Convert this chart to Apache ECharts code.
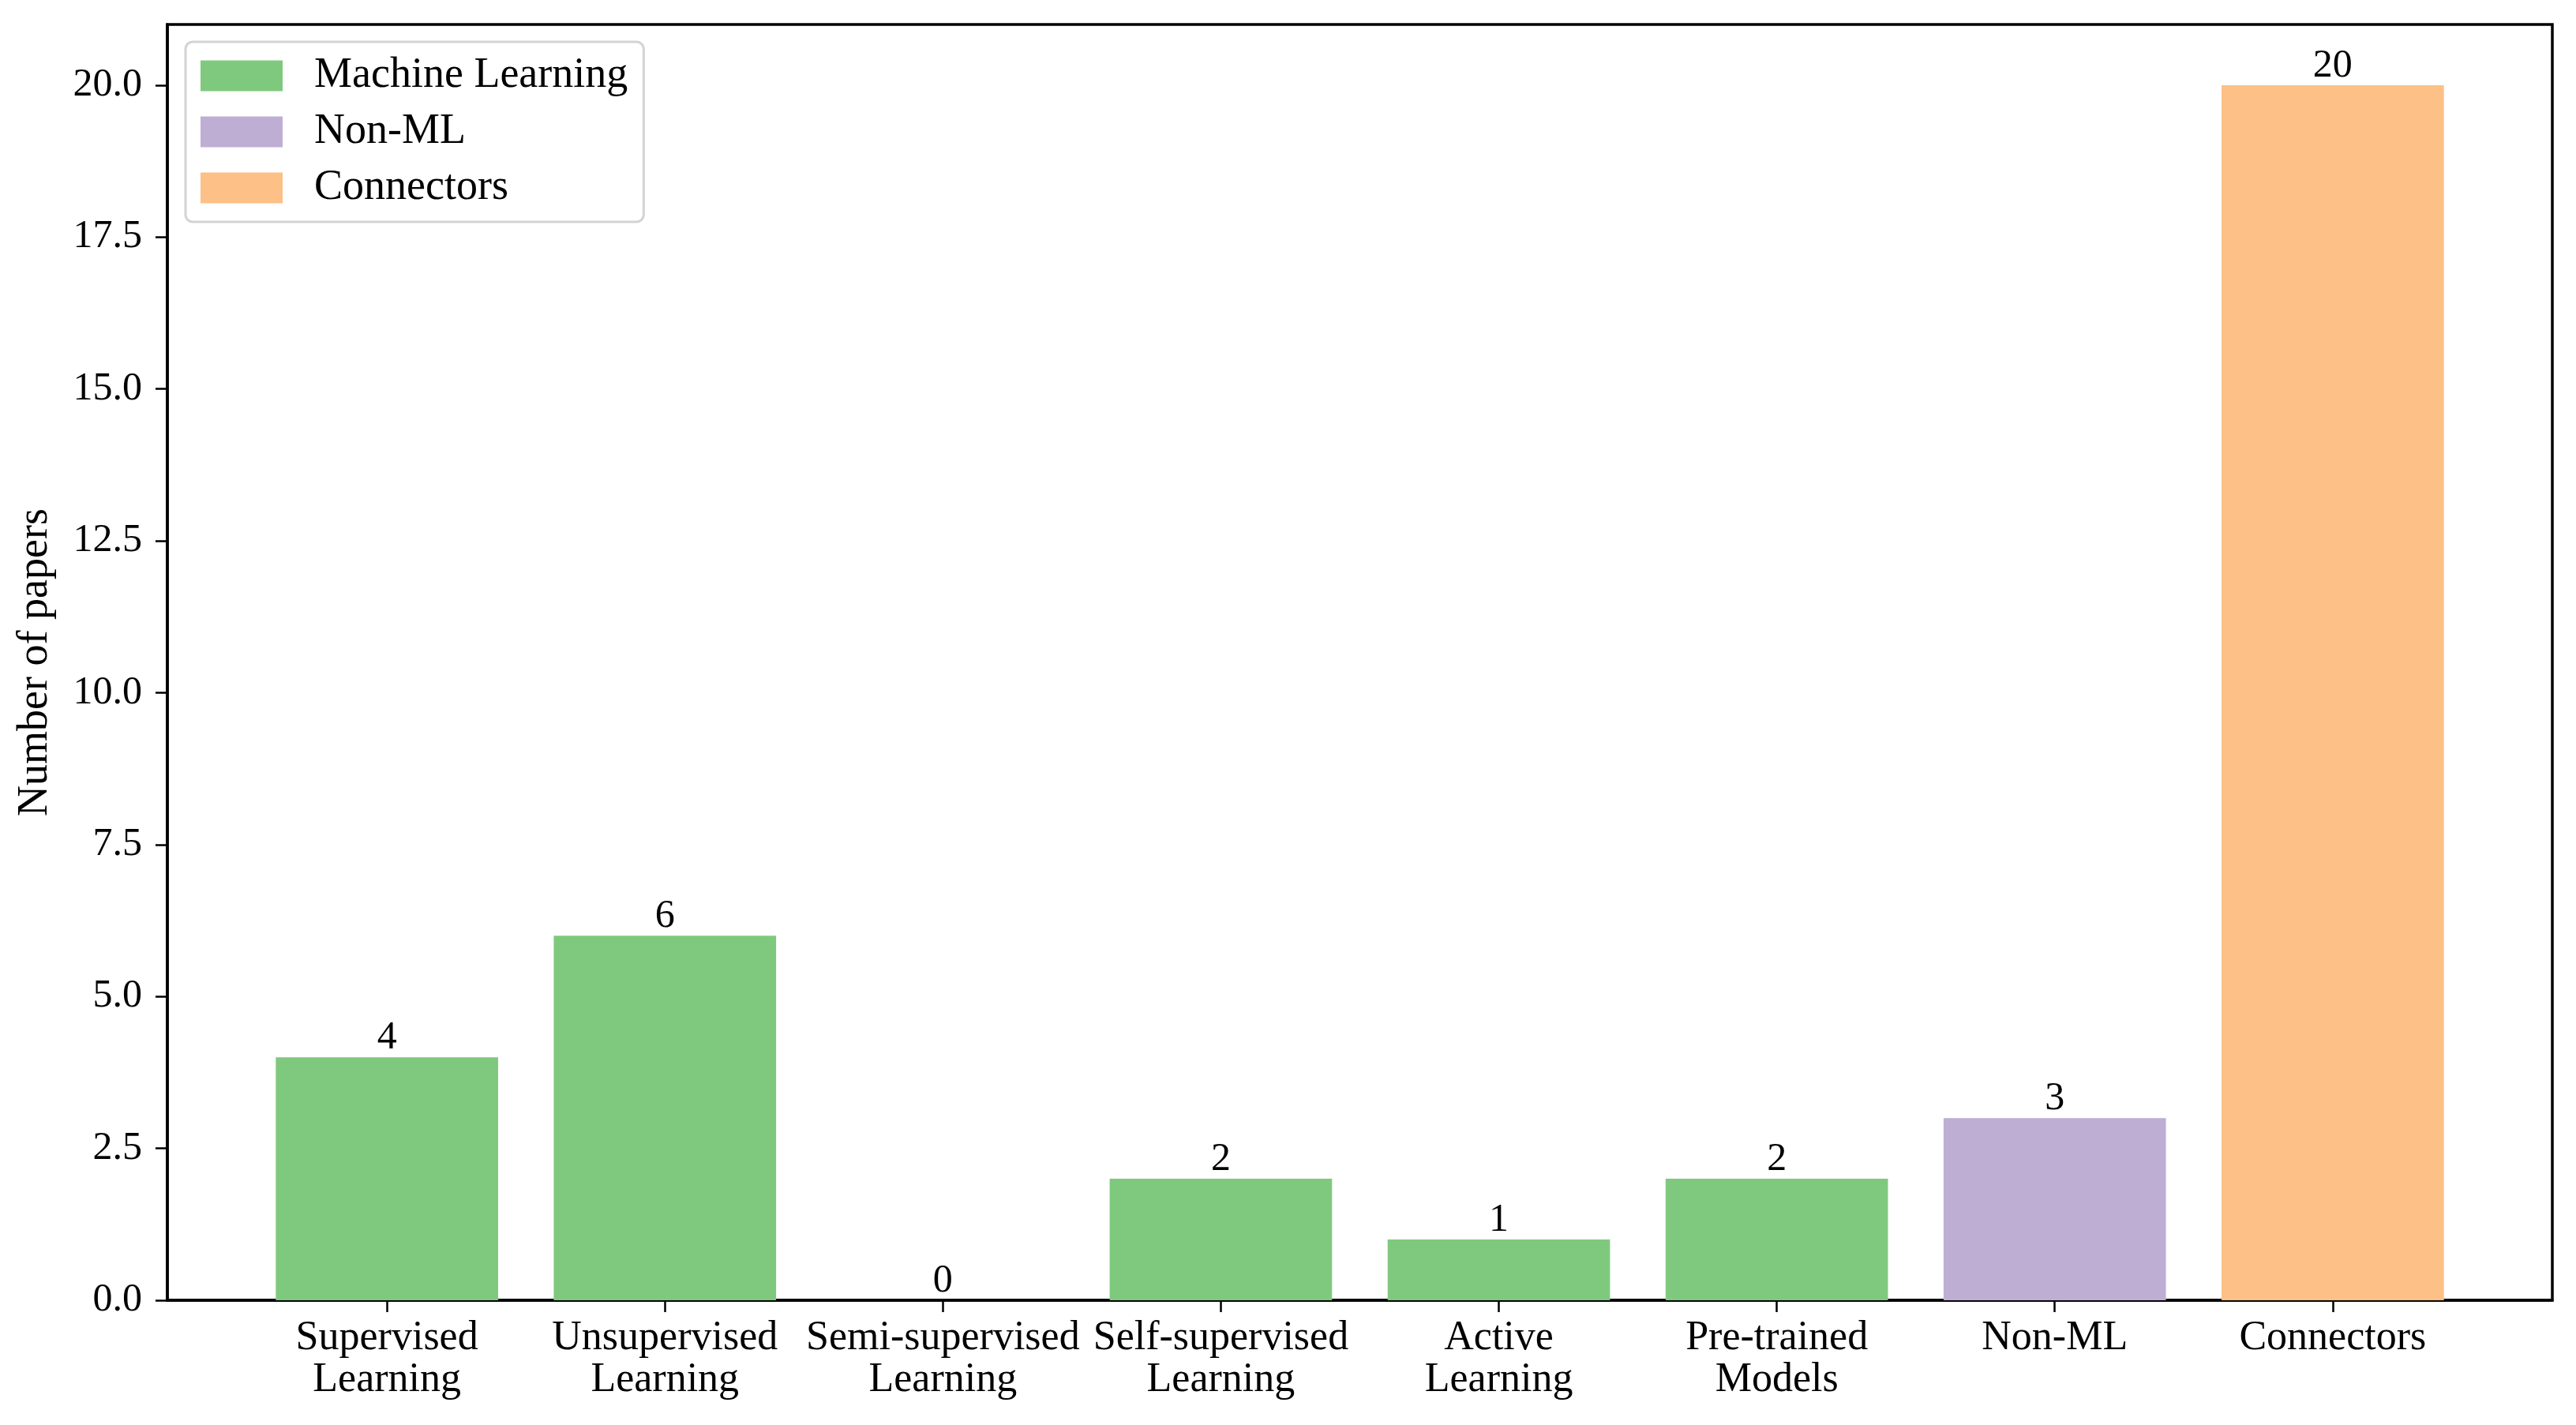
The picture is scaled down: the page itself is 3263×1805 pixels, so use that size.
<!DOCTYPE html>
<html>
<head>
<meta charset="utf-8">
<script src="https://cdn.jsdelivr.net/npm/echarts@6/dist/echarts.min.js"></script>
<style>
  html, body { margin: 0; padding: 0; background: #fff; }
  #chart { width: 3263px; height: 1805px; }
</style>
</head>
<body>
<div id="chart"></div>
<script>
// categories along x, number of papers per category, and the group each belongs to
var categories = ['Supervised\nLearning', 'Unsupervised\nLearning', 'Semi-supervised\nLearning',
    'Self-supervised\nLearning', 'Active\nLearning', 'Pre-trained\nModels', 'Non-ML', 'Connectors'];
var counts = [4, 6, 0, 2, 1, 2, 3, 20];
var groups = ['Machine Learning', 'Machine Learning', 'Machine Learning', 'Machine Learning',
    'Machine Learning', 'Machine Learning', 'Non-ML', 'Connectors'];
var groupNames = ['Machine Learning', 'Non-ML', 'Connectors'];
var groupColors = ['#7fc97f', '#beaed4', '#fdc086'];
var yTicks = [0, 2.5, 5, 7.5, 10, 12.5, 15, 17.5, 20];

var font = 'Liberation Serif';
var fs = 50;
var catIdx = categories.map(function (c, i) { return i; });

var series = groupNames.map(function (g, k) {
    var pts = [];
    for (var i = 0; i < counts.length; i++) {
        if (groups[i] === g) pts.push([i, counts[i]]);
    }
    return {
        name: g,
        type: 'bar',
        data: pts,
        barWidth: '80%',
        barGap: '-100%',
        itemStyle: { color: groupColors[k] },
        label: {
            show: true,
            position: 'top',
            distance: -1,
            color: '#000',
            fontFamily: font,
            fontSize: fs,
            formatter: function (p) { return p.value[1]; }
        }
    };
});

var myChart = echarts.init(document.getElementById('chart'));
myChart.setOption({
    animation: false,
    backgroundColor: '#fff',
    grid: {
        left: 212, right: 30, top: 31, bottom: 158,
        show: true, borderColor: '#000', borderWidth: 3.5
    },
    legend: {
        orient: 'vertical',
        left: 235,
        top: 53,
        data: groupNames,
        icon: 'rect',
        itemWidth: 104,
        itemHeight: 39,
        itemGap: 17,
        padding: [16, 20, 16, 19],
        borderColor: '#d3d3d3',
        borderWidth: 3,
        borderRadius: 9,
        textStyle: {
            fontFamily: font, fontSize: 54, color: '#000',
            lineHeight: 39, padding: [0, 0, 0, 35]
        }
    },
    xAxis: {
        type: 'value',
        min: -0.79,
        max: 7.79,
        splitLine: { show: false },
        axisLine: { show: true, lineStyle: { color: '#000', width: 3.5 } },
        axisTick: {
            show: true, customValues: catIdx, length: 15,
            lineStyle: { color: '#000', width: 2.5 }
        },
        axisLabel: {
            customValues: catIdx,
            margin: 22,
            color: '#000',
            fontFamily: font,
            fontSize: 52,
            lineHeight: 53,
            formatter: function (v) { return categories[Math.round(v)]; }
        }
    },
    yAxis: {
        type: 'value',
        min: 0,
        max: 21,
        interval: 2.5,
        name: 'Number of papers',
        nameLocation: 'middle',
        nameGap: 140,
        nameTextStyle: { fontFamily: font, fontSize: 54, color: '#000' },
        splitLine: { show: false },
        axisLine: { show: true, onZero: false, lineStyle: { color: '#000', width: 3.5 } },
        axisTick: {
            show: true, customValues: yTicks, length: 15,
            lineStyle: { color: '#000', width: 2.5 }
        },
        axisLabel: {
            margin: 32,
            color: '#000',
            fontFamily: font,
            fontSize: fs,
            customValues: yTicks,
            formatter: function (v) { return v.toFixed(1); }
        }
    },
    series: series
});
</script>
</body>
</html>
